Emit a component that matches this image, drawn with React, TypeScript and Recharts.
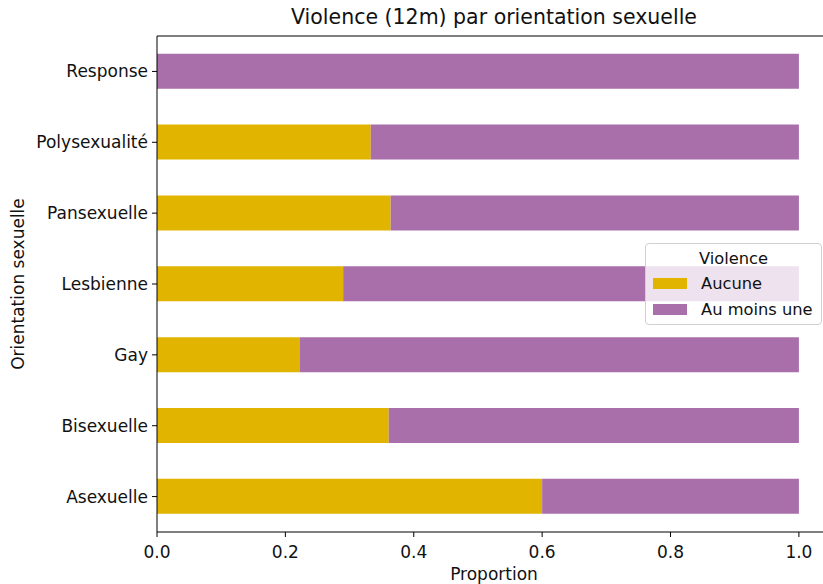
import React from 'react';
import { BarChart, Bar, XAxis, YAxis } from 'recharts';

const categories = ['Response', 'Polysexualité', 'Pansexuelle', 'Lesbienne', 'Gay', 'Bisexuelle', 'Asexuelle'];
const aucune = [0, 0.333, 0.364, 0.29, 0.222, 0.361, 0.6];
const auMoinsUne = [1.0, 0.667, 0.636, 0.71, 0.778, 0.639, 0.4];
const xTicks = [0, 0.2, 0.4, 0.6, 0.8, 1.0];
const seriesNames = ['Aucune', 'Au moins une'];

const data = categories.map((c, i) => ({ name: c, aucune: aucune[i], auMoinsUne: auMoinsUne[i] }));

const FONT = '"DejaVu Sans", sans-serif';
const YELLOW = '#E1B400';
const PURPLE = '#A86FAA';
const seriesColors = [YELLOW, PURPLE];

const YLabel = ({ viewBox }: any) => {
    const cy = viewBox.y + viewBox.height / 2;
    return (
        <text x={18} y={cy} transform={`rotate(-90, 18, ${cy})`} textAnchor="middle" dominantBaseline="central"
            fontSize={17} fontFamily={FONT} fill="#111">
            Orientation sexuelle
        </text>
    );
};

const LegendBox = () => (
    <div style={{
        position: 'absolute', left: 645, top: 243, width: 177, height: 82, boxSizing: 'border-box',
        background: 'rgba(255,255,255,0.8)', border: '1px solid #d0d0d0', borderRadius: 4,
        fontFamily: FONT, fontSize: 16.3, color: '#111',
    }}>
        <div style={{ textAlign: 'center', marginTop: 4, height: 22, lineHeight: '22px' }}>Violence</div>
        {seriesNames.map((n, i) => (
            <div key={n} style={{ display: 'flex', alignItems: 'center', height: 26 }}>
                <span style={{ display: 'inline-block', width: 34, height: 11, background: seriesColors[i], marginLeft: 7, marginRight: 14 }} />
                <span>{n}</span>
            </div>
        ))}
    </div>
);

export default function App() {
    return (
        <div style={{ position: 'absolute', left: 0, top: 0, width: 823, height: 584, overflow: 'hidden', background: '#fff' }}>
            <div style={{ position: 'absolute', top: 5, width: 988, left: 0, textAlign: 'center', fontFamily: FONT, fontSize: 20.5, color: '#111' }}>
                Violence (12m) par orientation sexuelle
            </div>
            <BarChart width={840} height={584} data={data} layout="vertical"
                margin={{ top: 35, right: 9, bottom: 0, left: 0 }} barCategoryGap="25%">
                <XAxis type="number" domain={[0, 1.05]} ticks={xTicks} allowDataOverflow
                    tickFormatter={(v: number) => v.toFixed(1)} height={52} tickSize={5} tickMargin={9}
                    axisLine={{ stroke: '#000' }} tickLine={{ stroke: '#000' }}
                    tick={{ fontSize: 17, fontFamily: FONT, fill: '#111' }}
                    label={{ value: 'Proportion', position: 'insideBottom', offset: 4, fontSize: 17, fontFamily: FONT, fill: '#111' }} />
                <XAxis xAxisId="top" orientation="top" type="number" domain={[0, 1.05]} height={1}
                    tick={false} tickLine={false} axisLine={{ stroke: '#000' }} />
                <YAxis type="category" dataKey="name" width={157} tickSize={5} tickMargin={4}
                    axisLine={{ stroke: '#000' }} tickLine={{ stroke: '#000' }}
                    tick={{ fontSize: 17, fontFamily: FONT, fill: '#111' }}
                    label={{ content: <YLabel /> }} />
                <Bar dataKey="aucune" name="Aucune" stackId="a" fill={YELLOW} isAnimationActive={false} />
                <Bar dataKey="auMoinsUne" name="Au moins une" stackId="a" fill={PURPLE} isAnimationActive={false} />
            </BarChart>
            <LegendBox />
        </div>
    );
}
